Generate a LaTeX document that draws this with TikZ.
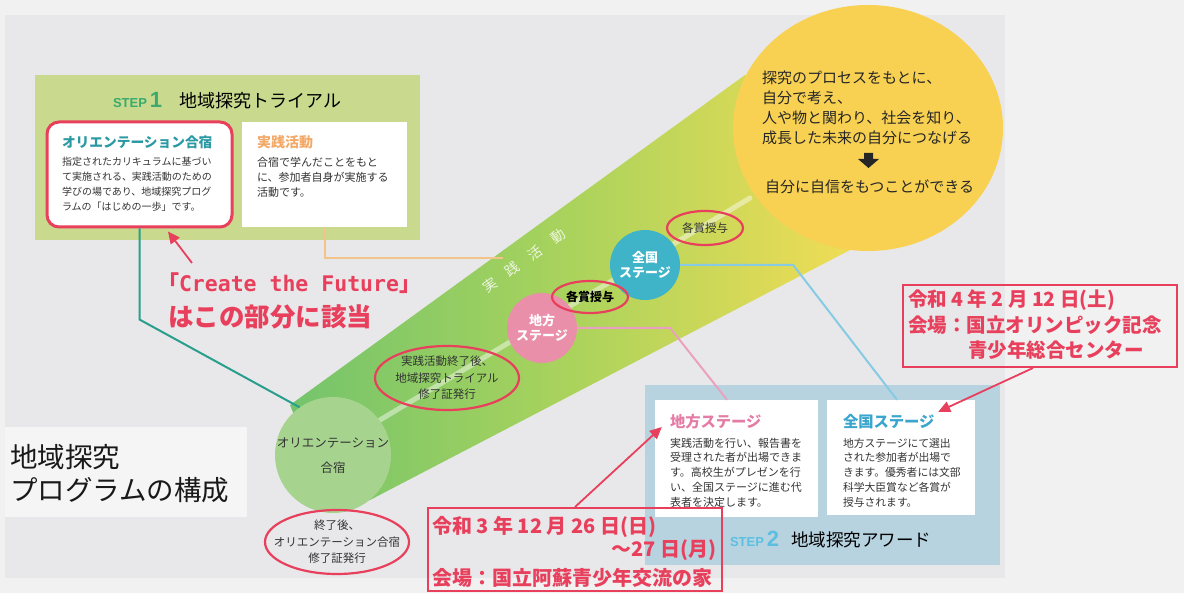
\documentclass[tikz,border=0pt]{standalone}
\usepackage{fontspec}
\setmainfont{Noto Sans CJK JP}
\newfontfamily\monob{DejaVu Sans Mono}
\newfontfamily\stepf{Liberation Sans}
\usetikzlibrary{shapes.geometric,arrows.meta,calc}
\newcommand{\fsz}[2]{\fontsize{#1}{#2}\selectfont}
\definecolor{bgout}{HTML}{F1F1F1}
\definecolor{bgpanel}{HTML}{E8E8EA}
\definecolor{step1green}{HTML}{C9DA8F}
\definecolor{step2blue}{HTML}{B7D3E0}
\definecolor{myred}{HTML}{E8405C}
\definecolor{tealT}{HTML}{2A99A3}
\definecolor{tealline}{HTML}{2A9E8C}
\definecolor{orangeT}{HTML}{F3A968}
\definecolor{orangeline}{HTML}{F2C48A}
\definecolor{pinkT}{HTML}{E57CA6}
\definecolor{pinkline}{HTML}{E8A2BF}
\definecolor{blueT}{HTML}{3AA5CD}
\definecolor{blueline}{HTML}{86CBE3}
\definecolor{yellow1}{HTML}{F8D152}
\definecolor{capgreen}{HTML}{A6D48F}
\definecolor{beamA}{HTML}{74C46C}
\definecolor{beamB}{HTML}{AAD35C}
\definecolor{beamC}{HTML}{F0DC55}
\definecolor{pinkc}{HTML}{E98FAA}
\definecolor{bluec}{HTML}{3FB3C7}
\definecolor{stepgreen}{HTML}{3BAA6C}
\definecolor{stepblue}{HTML}{5CBFE2}
\definecolor{bodyc}{HTML}{333333}
\begin{document}
\begin{tikzpicture}[x=1pt,y=-1pt,
  txt/.style={inner sep=0pt, outer sep=0pt},
  body/.style={txt, align=left, anchor=west, text=bodyc},
  wbox/.style={fill=white, inner sep=0pt},
  redov/.style={ellipse, draw=myred, line width=2.2pt, inner sep=0pt},
  conn/.style={line width=2pt},
  redarrow/.style={draw=myred, line width=1.8pt, -{Triangle[length=12pt,width=11pt]}},
  rtxt/.style={txt, text=myred, font=\bfseries\fsz{19.5}{20}},
  stagec/.style={circle, inner sep=0pt, minimum size=70pt, text=white, align=center, font=\bfseries\fsz{13}{15}}
]
\useasboundingbox (0,0) rectangle (1184,593);
% background
\fill[bgout] (0,0) rectangle (1184,593);
\fill[bgpanel] (5,15) rectangle (1005,578);
\fill[white, opacity=0.6] (5,427) rectangle (247,517);

% STEP 1 panel
\node[fill=step1green, minimum width=385pt, minimum height=165pt, inner sep=0pt] (s1) at (227.5,157.5) {};
\node[txt, anchor=west] (s1t) at (113,101) {{\stepf\bfseries\color{stepgreen}\fsz{13}{13}STEP}\hspace{3pt}{\stepf\bfseries\color{stepgreen}\fsz{22}{22}1}\hspace{17pt}{\fsz{18}{18}地域探究トライアル}};
\node[wbox, draw=myred, line width=3pt, rounded corners=12pt, minimum width=185pt, minimum height=105pt] (box1) at (139.5,174.5) {};
\node[txt, anchor=west, text=tealT, font=\bfseries\fsz{13.7}{14}] (box1t) at (62,142) {オリエンテーション合宿};
\node[body, font=\fsz{10}{15}] (box1b) at (62,184.5) {指定されたカリキュラムに基づい\\て実施される、実践活動のための\\学びの場であり、地域探究プログ\\ラムの「はじめの一歩」です。};
\node[wbox, minimum width=165pt, minimum height=105pt] (box2) at (324.5,174.5) {};
\node[txt, anchor=west, text=orangeT, font=\bfseries\fsz{14}{14}] (box2t) at (257,142) {実践活動};
\node[body, font=\fsz{11}{15}] (box2b) at (257,177) {合宿で学んだことをもと\\に、参加者自身が実施する\\活動です。};

% STEP 2 panel
\node[fill=step2blue, minimum width=355pt, minimum height=180pt, inner sep=0pt] (s2) at (822.5,475) {};
\node[wbox, minimum width=163pt, minimum height=117pt] (box3) at (736.5,458.5) {};
\node[wbox, minimum width=148pt, minimum height=115pt] (box4) at (901,457.5) {};
\node[txt, anchor=west, text=pinkT, font=\bfseries\fsz{15.3}{16}] (box3t) at (670,422) {地方ステージ};
\node[txt, anchor=west, text=blueT, font=\bfseries\fsz{15.3}{16}] (box4t) at (843,422) {全国ステージ};
\node[body, font=\fsz{11}{14.8}] (box3b) at (670,472.5) {実践活動を行い、報告書を\\受理された者が出場できま\\す。高校生がプレゼンを行\\い、全国ステージに進む代\\表者を決定します。};
\node[body, font=\fsz{10.8}{14.8}] (box4b) at (843,472.5) {地方ステージにて選出\\された参加者が出場で\\きます。優秀者には文部\\科学大臣賞など各賞が\\授与されます。};
\node[txt, anchor=west] (s2t) at (730,540) {{\stepf\bfseries\color{stepblue}\fsz{13}{13}STEP}\hspace{3pt}{\stepf\bfseries\color{stepblue}\fsz{22}{22}2}\hspace{12pt}{\fsz{17.5}{18}地域探究アワード}};

% beam
\shade[left color=beamA, right color=beamC, middle color=beamB] (290,405) -- (745,75) -- (850,250) -- (370,500) -- (333,512) -- cycle;
\draw[line width=5pt, white, opacity=0.45, line cap=round] (380,420) -- (750,198);

% goal circle
\node[ellipse, fill=yellow1, minimum width=270pt, minimum height=246pt, inner sep=0pt] (goal) at (868,128) {};
\node[txt, anchor=west, align=left, text=black!85, font=\fsz{15}{20}] (goalt) at (762,107.5) {探究のプロセスをもとに、\\自分で考え、\\人や物と関わり、社会を知り、\\成長した未来の自分につなげる};
\fill[black!85] (864,153) -- (873,153) -- (873,159) -- (879,159) -- (868.5,168) -- (858,159) -- (864,159) -- cycle;
\node[txt, anchor=west, text=black!85, font=\fsz{15}{15}] (goalt2) at (765,187) {自分に自信をもつことができる};

% orientation cap and stages
\node[circle, fill=capgreen, minimum size=116pt, inner sep=0pt] (orient) at (333,455) {};
\node[txt, align=center, text=bodyc, font=\fsz{12.5}{25}] (orientt) at (333,455.5) {オリエンテーション\\合宿};
\node[stagec, fill=pinkc] (pinkst) at (542,328) {地方\\ステージ};
\node[stagec, fill=bluec] (bluest) at (645,265) {全国\\ステージ};
\node[txt, rotate=35.5, text=white, opacity=0.8, font=\fsz{14}{14}] (beamlabel) at (524,261) {実\hspace{14pt}践\hspace{14pt}活\hspace{14pt}動};

% connectors
\coordinate (oend) at (503,258);
\draw[conn, tealline] (box1.south) -- ++(0,91) -- (orient.125);
\draw[conn, orangeline] (box2.south) |- (oend);
\draw[conn, pinkline] (pinkst.east) -- ++(93,0) -- ([xshift=-9.5pt]box3.north);
\draw[conn, blueline] (bluest.east) -- ++(113,0) -- ([xshift=-4pt]box4.north);

% red ovals
\node[redov, minimum width=76pt, minimum height=34pt] (aw1) at (705,228) {};
\node[txt, text=bodyc, font=\fsz{11.5}{12}] (aw1t) at (aw1) {各賞授与};
\node[redov, minimum width=76pt, minimum height=32pt] (aw2) at (590,297) {};
\node[txt, text=black, font=\bfseries\fsz{12}{12}] (aw2t) at (aw2) {各賞授与};
\node[redov, minimum width=144pt, minimum height=64pt] (cert1) at (447,378) {};
\node[txt, align=center, text=bodyc, font=\fsz{11.5}{16.5}] (cert1t) at (cert1) {実践活動終了後、\\地域探究トライアル\\修了証発行};
\node[redov, minimum width=144pt, minimum height=64pt] (cert2) at (337,542) {};
\node[txt, align=center, text=bodyc, font=\fsz{11.5}{16.5}] (cert2t) at (cert2) {終了後、\\オリエンテーション合宿\\修了証発行};

% title
\node[txt, anchor=west, align=left, text=black!90, font=\fsz{27.5}{33}] (title) at (10,473.5) {地域探究\\プログラムの構成};

% red notes
\node[txt, anchor=west, text=myred] (ctf) at (157,283) {{\bfseries\fsz{22}{22}「}{\monob\bfseries\fsz{21.5}{22}Create the Future}{\bfseries\fsz{22}{22}」}};
\node[txt, anchor=west, text=myred, font=\bfseries\fsz{25.5}{26}] (ctf2) at (168,317) {はこの部分に該当};
\coordinate (a1) at (192,263);
\draw[redarrow] (a1) -- ([xshift=28.5pt,yshift=-3pt]box1.south);

\node[draw=myred, line width=2pt, minimum width=274pt, minimum height=82pt, inner sep=0pt] (rb1) at (1040,326) {};
\node[rtxt, anchor=west] (rb1a) at (908,300) {令和 4 年 2 月 12 日(土)};
\node[rtxt, anchor=west] (rb1b) at (908,325) {会場：国立オリンピック記念};
\node[rtxt, anchor=west] (rb1c) at (968,350) {青少年総合センター};
\draw[redarrow] ([xshift=-7pt]rb1.south) -- ([xshift=-37pt,yshift=-12pt]box4.north east);

\node[draw=myred, line width=2pt, minimum width=294pt, minimum height=83pt, inner sep=0pt] (rb2) at (575,549.5) {};
\node[rtxt, anchor=west, font=\bfseries\fsz{20}{20}] (rb2a) at (432,527) {令和 3 年 12 月 26 日(日)};
\node[rtxt, anchor=east, font=\bfseries\fsz{20}{20}] (rb2b) at (716,550) {～27 日(月)};
\node[rtxt, anchor=west, font=\bfseries\fsz{20}{20}] (rb2c) at (432,578) {会場：国立阿蘇青少年交流の家};
\draw[redarrow] (rb2.north) -- ([xshift=7pt,yshift=31.5pt]box3.west);
\end{tikzpicture}
\end{document}
